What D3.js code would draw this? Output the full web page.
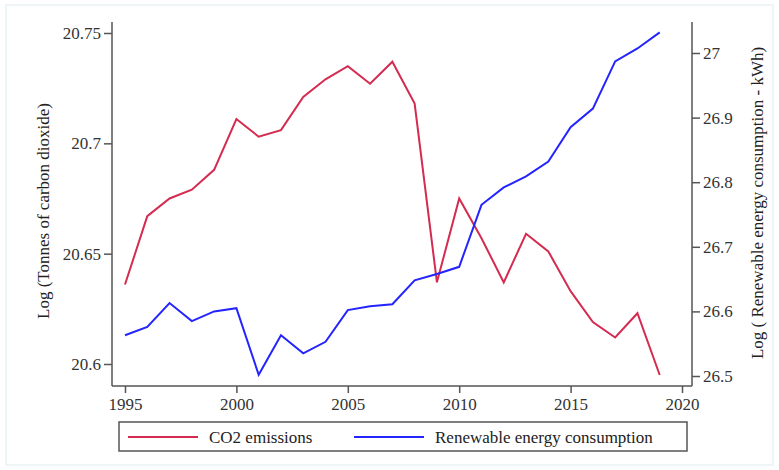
<!DOCTYPE html>
<meta charset="utf-8">
<title>CO2 emissions and renewable energy consumption</title>
<style>
body {
  margin: 0px;
  background: #fff;
}
svg, .axis {
  font-family: "Liberation Serif", "Times New Roman", serif;
}
.axis text {
  font-size: 17px;
  fill: #333;
}
.axis path, .axis line {
  stroke: #555;
  stroke-width: 1.5;
}
</style>
<body>
<script src="https://cdn.jsdelivr.net/npm/d3@7"></script>
<script>

var width = 779, height = 470;

// data
var years = [1995, 1996, 1997, 1998, 1999, 2000, 2001, 2002, 2003, 2004, 2005, 2006, 2007,
             2008, 2009, 2010, 2011, 2012, 2013, 2014, 2015, 2016, 2017, 2018, 2019];
var co2 = [20.636, 20.667, 20.675, 20.679, 20.688, 20.711, 20.703, 20.706, 20.721, 20.729,
           20.735, 20.727, 20.737, 20.718, 20.637, 20.675, 20.657, 20.637, 20.659, 20.651,
           20.633, 20.619, 20.612, 20.623, 20.595];
var renew = [26.563, 26.576, 26.613, 26.585, 26.600, 26.605, 26.502, 26.563, 26.535, 26.553,
             26.602, 26.608, 26.611, 26.648, 26.658, 26.669, 26.765, 26.792, 26.809, 26.832,
             26.885, 26.914, 26.987, 27.007, 27.032];
var xTicks = [1995, 2000, 2005, 2010, 2015, 2020];
var leftTicks = [20.6, 20.65, 20.7, 20.75];
var rightTicks = [26.5, 26.6, 26.7, 26.8, 26.9, 27];
var seriesNames = ["CO2 emissions", "Renewable energy consumption"];
var colors = ["#d42b50", "#2424ff"];

var plotLeft = 112, plotRight = 692, plotTop = 22, plotBottom = 386;

var svg = d3.select("body").append("svg")
    .attr("width", width)
    .attr("height", height);

// faint frame around the image
svg.append("rect")
    .attr("x", 6).attr("y", 5)
    .attr("width", width - 12).attr("height", height - 10)
    .attr("fill", "none")
    .attr("stroke", "#eef5f7")
    .attr("stroke-width", 2);

var x = d3.scaleLinear().domain([1995, 2020]).range([125, 682]);
var yL = d3.scaleLinear().domain([20.6, 20.75]).range([364, 33]);
var yR = d3.scaleLinear().domain([26.5, 27]).range([376, 53]);

// axes
var gx = svg.append("g")
    .attr("class", "axis")
    .attr("transform", "translate(0," + plotBottom + ")")
    .call(d3.axisBottom(x).tickValues(xTicks).tickFormat(d3.format("d")).tickSize(7).tickPadding(5));
gx.select(".domain").attr("d", "M" + plotLeft + ",0H" + plotRight);

var gl = svg.append("g")
    .attr("class", "axis")
    .attr("transform", "translate(" + plotLeft + ",0)")
    .call(d3.axisLeft(yL).tickValues(leftTicks).tickFormat(d => d3.format("")(d)).tickSize(8).tickPadding(3));
gl.select(".domain").attr("d", "M0," + plotTop + "V" + plotBottom);

var gr = svg.append("g")
    .attr("class", "axis")
    .attr("transform", "translate(" + plotRight + ",0)")
    .call(d3.axisRight(yR).tickValues(rightTicks).tickFormat(d => d3.format("")(d)).tickSize(8).tickPadding(3));
gr.select(".domain").attr("d", "M0," + plotTop + "V" + plotBottom);

// axis titles
svg.append("text")
    .attr("transform", "translate(49,211) rotate(-90)")
    .attr("text-anchor", "middle")
    .style("font-size", "17px")
    .attr("fill", "#222")
    .text("Log (Tonnes of carbon dioxide)");

svg.append("text")
    .attr("transform", "translate(763,203) rotate(-90)")
    .attr("text-anchor", "middle")
    .style("font-size", "17px")
    .attr("fill", "#222")
    .text("Log ( Renewable energy consumption - kWh)");

// lines
var lineL = d3.line().x((d, i) => x(years[i])).y(d => yL(d));
var lineR = d3.line().x((d, i) => x(years[i])).y(d => yR(d));

svg.append("path")
    .datum(co2)
    .attr("d", lineL)
    .attr("fill", "none")
    .attr("stroke", colors[0])
    .attr("stroke-width", 2);

svg.append("path")
    .datum(renew)
    .attr("d", lineR)
    .attr("fill", "none")
    .attr("stroke", colors[1])
    .attr("stroke-width", 2);

// legend
var legend = svg.append("g");
legend.append("rect")
    .attr("x", 119).attr("y", 422)
    .attr("width", 568).attr("height", 29)
    .attr("fill", "#fff")
    .attr("stroke", "#555")
    .attr("stroke-width", 1.5);

var legendX = [128, 354];
seriesNames.forEach(function (name, i) {
  legend.append("line")
      .attr("x1", legendX[i]).attr("x2", legendX[i] + 70)
      .attr("y1", 437).attr("y2", 437)
      .attr("stroke", colors[i])
      .attr("stroke-width", 2);
  legend.append("text")
      .attr("x", legendX[i] + 81).attr("y", 443)
      .style("font-size", "17px")
      .attr("fill", "#222")
      .text(name);
});

</script>
